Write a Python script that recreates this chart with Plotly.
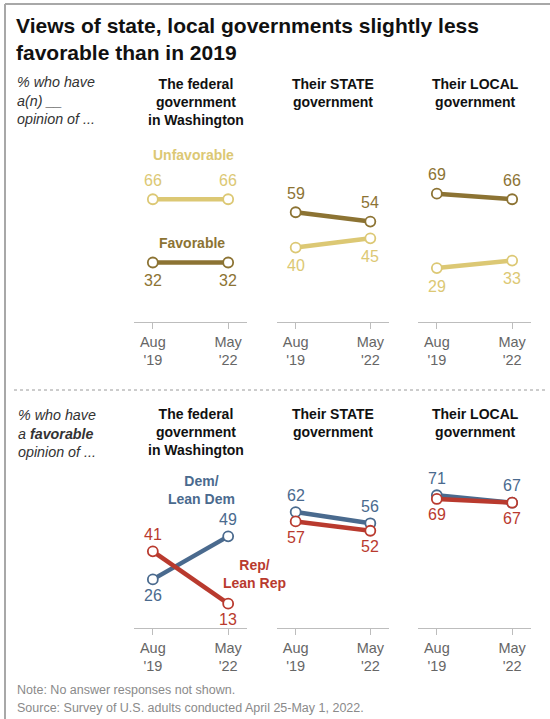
import plotly.graph_objects as go

# ---------------- data ----------------
periods = ["Aug<br>'19", "May<br>'22"]
panels = ["The federal<br>government<br>in Washington", "Their STATE<br>government", "Their LOCAL<br>government"]

unfavorable = [[66, 66], [40, 45], [29, 33]]
favorable = [[32, 32], [59, 54], [69, 66]]
dem_fav = [[26, 49], [62, 56], [71, 67]]
rep_fav = [[41, 13], [57, 52], [69, 67]]

# label placement: +1 above the point, -1 below
unfav_side = [[1, 1], [-1, -1], [-1, -1]]
fav_side = [[-1, -1], [1, 1], [1, 1]]
dem_side = [[-1, 1], [1, 1], [1, 1]]
rep_side = [[1, -1], [-1, -1], [-1, -1]]

C_UNFAV = "#DCC874"
C_FAV = "#8C7333"
C_DEM = "#4A6A8E"
C_REP = "#B93A2E"
FONT = "Liberation Sans, Arial, sans-serif"

W, H = 550, 719


def px(x):
    return x / W


def py(y):
    return 1 - y / H


panel_x = [(134, 247), (277, 389), (418, 531)]
top_y = (322, 136)     # pixel of value 0, value 100
bot_y = (628, 441)

fig = go.Figure()
layout_axes = {}
annotations = []


def add_series(idx, values, color, sides, shift_up, shift_dn):
    n = idx + 1
    fig.add_trace(go.Scatter(
        x=[0, 1], y=values, mode="lines+markers",
        line=dict(color=color, width=4.5),
        marker=dict(size=10, color="white", line=dict(color=color, width=1.8)),
        xaxis=f"x{n}" if n > 1 else "x", yaxis=f"y{n}" if n > 1 else "y",
        cliponaxis=False, hoverinfo="skip", showlegend=False,
    ))
    for i, v in enumerate(values):
        annotations.append(dict(
            x=i, y=v, xref=f"x{n}" if n > 1 else "x", yref=f"y{n}" if n > 1 else "y",
            text=str(v), showarrow=False,
            yshift=shift_up if sides[i] > 0 else -shift_dn,
            font=dict(family=FONT, size=16, color=color),
        ))


for p in range(3):
    # top row: axes 1..3, bottom row: axes 4..6
    for row, (yb, yt) in enumerate([top_y, bot_y]):
        idx = p + 3 * row
        n = idx + 1
        xk = "xaxis" if n == 1 else f"xaxis{n}"
        yk = "yaxis" if n == 1 else f"yaxis{n}"
        layout_axes[xk] = dict(
            domain=[px(panel_x[p][0]), px(panel_x[p][1])],
            range=[-0.25, 1.25], anchor="y" if n == 1 else f"y{n}",
            tickvals=[0, 1], ticktext=periods,
            showline=True, linecolor="#bdbdbd", linewidth=1.2,
            ticks="outside", ticklen=6, tickcolor="#bdbdbd", tickwidth=1.2,
            showgrid=False, zeroline=False, fixedrange=True,
            tickfont=dict(family=FONT, size=14.5, color="#666666"),
        )
        layout_axes[yk] = dict(
            domain=[py(yb), py(yt)], range=[0, 100],
            anchor="x" if n == 1 else f"x{n}",
            visible=False, fixedrange=True,
        )
    add_series(p, unfavorable[p], C_UNFAV, unfav_side[p], 19, 18)
    add_series(p, favorable[p], C_FAV, fav_side[p], 19, 18)
    add_series(p + 3, dem_fav[p], C_DEM, dem_side[p], 17, 16)
    add_series(p + 3, rep_fav[p], C_REP, rep_side[p], 17, 16)


def txt(x, y, text, size=14, color="#000", bold=False, italic=False, align="center",
        xanchor="center", yanchor="middle"):
    if bold:
        text = f"<b>{text}</b>"
    if italic:
        text = f"<i>{text}</i>"
    annotations.append(dict(
        x=px(x), y=py(y), xref="paper", yref="paper", text=text, showarrow=False,
        align=align, xanchor=xanchor, yanchor=yanchor,
        font=dict(family=FONT, size=size, color=color),
    ))


# title
txt(14, 12, "Views of state, local governments slightly less<br>favorable than in 2019",
    size=21, bold=True, align="left", xanchor="left", yanchor="top", color="#111")

# subtitles
txt(15, 101, "% who have<br>a(n) __<br>opinion of ...", size=14.3, italic=True,
    align="left", xanchor="left", color="#333")
txt(16, 433, "% who have<br>a <b>favorable</b><br>opinion of ...", size=14.3, italic=True,
    align="left", xanchor="left", color="#333")

# column headers
head_x = [196, 333, 475]
for p in range(3):
    lines = panels[p].count("<br>") + 1
    txt(head_x[p], 84 + (lines - 1) * 9, panels[p], size=14, bold=True, color="#111")
    txt(head_x[p], 414 + (lines - 1) * 9, panels[p], size=14, bold=True, color="#111")

# series names
txt(193, 155, "Unfavorable", size=14, bold=True, color=C_UNFAV)
txt(192, 243, "Favorable", size=14, bold=True, color=C_FAV)
txt(201, 490, "Dem/<br>Lean Dem", size=14, bold=True, color=C_DEM)
txt(254, 574, "Rep/<br>Lean Rep", size=14, bold=True, color=C_REP)

# footer
txt(15, 690, "Note: No answer responses not shown.", size=12.5, color="#8a8a8a",
    align="left", xanchor="left")
txt(15, 708, "Source: Survey of U.S. adults conducted April 25-May 1, 2022.", size=12.5,
    color="#8a8a8a", align="left", xanchor="left")

shapes = [
    dict(type="line", xref="paper", yref="paper", x0=px(5), x1=1, y0=py(4), y1=py(4),
         line=dict(color="#a8a8a8", width=2)),
    dict(type="line", xref="paper", yref="paper", x0=px(5), x1=px(5), y0=py(4), y1=0,
         line=dict(color="#a8a8a8", width=2)),
    dict(type="line", xref="paper", yref="paper", x0=px(14), x1=px(548), y0=py(390), y1=py(390),
         line=dict(color="#9a9a9a", width=1, dash="dot")),
]

fig.update_layout(
    width=W, height=H, margin=dict(l=0, r=0, t=0, b=0),
    paper_bgcolor="white", plot_bgcolor="white",
    annotations=annotations, shapes=shapes, showlegend=False,
    font=dict(family=FONT),
    **layout_axes,
)

fig.write_html("out.html", config={"displayModeBar": False},
               post_script="document.body.style.margin='0';document.body.style.overflow='hidden';")
